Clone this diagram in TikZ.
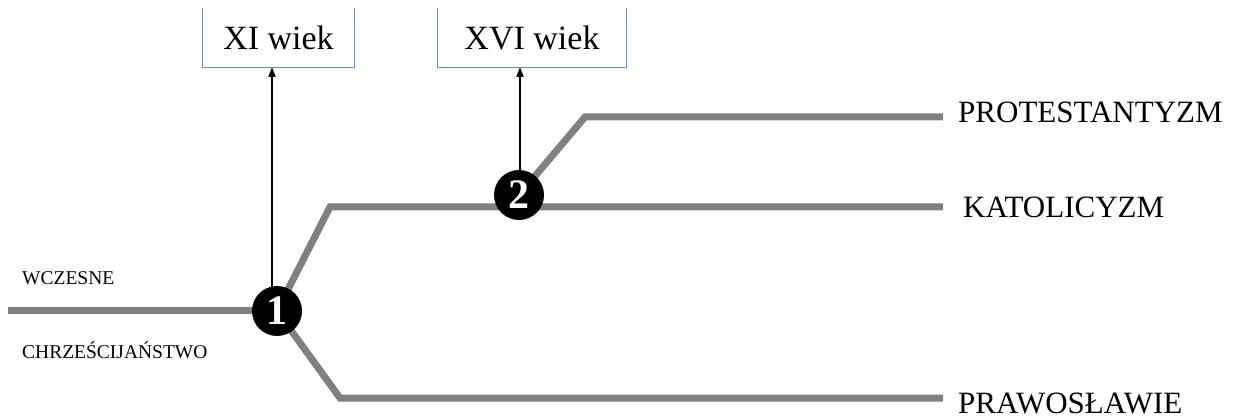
\documentclass[tikz,border=0pt]{standalone}
\usepackage{fontspec}
\setmainfont{Liberation Serif}
\usetikzlibrary{arrows.meta,calc}
\definecolor{branchgray}{RGB}{128,128,128}
\definecolor{boxblue}{RGB}{110,140,190}
\tikzset{
  branch/.style={draw=branchgray,line width=7pt,line join=miter},
  stepnum/.style={circle,fill=black,minimum size=50pt,inner sep=0pt,text=white,font=\fontsize{42}{42}\selectfont\bfseries},
  period/.style={inner sep=0pt,font=\fontsize{34}{34}\selectfont},
  boxline/.style={draw=boxblue,line width=1pt},
  arr/.style={line width=1.5pt,-{Triangle[length=10pt,width=7pt]}},
  biglabel/.style={anchor=base west,inner sep=0pt,font=\fontsize{31}{31}\selectfont},
  smalllabel/.style={anchor=base west,inner sep=0pt,font=\fontsize{19.5}{19.5}\selectfont}
}
\begin{document}
\begin{tikzpicture}[x=1pt,y=-1pt]
\useasboundingbox (0,0) rectangle (1236,419);
% coordinates of branch ends
\coordinate (start) at (8,311);
\coordinate (c1) at (277,311);
\coordinate (c2) at (519,195);
\coordinate (up1) at (330,207);
\coordinate (kend) at (943,207);
\coordinate (lo1) at (340,398);
\coordinate (pend) at (943,398);
\coordinate (pr1) at (585,117);
\coordinate (prend) at (943,117);
% branches
\draw[branch] (start) -- (c1);
\draw[branch] (c1) -- (up1) -- (kend);
\draw[branch] (c1) -- (lo1) -- (pend);
\draw[branch] (c2) -- (pr1) -- (prend);
% boxes
\node[period,minimum width=151pt,minimum height=59pt] (b1) at (278.5,37.5) {XI wiek};
\node[period,minimum width=188pt,minimum height=59pt] (b2) at (532,37.5) {XVI wiek};
\draw[boxline] (b1.north west) -- (b1.south west) -- (b1.south east) -- (b1.north east);
\draw[boxline] (b2.north west) -- (b2.south west) -- (b2.south east) -- (b2.north east);
% step circles
\node[stepnum] (n1) at (c1) {1};
\node[stepnum] (n2) at (c2) {2};
% arrows
\coordinate (a1) at (272,67);
\coordinate (a2) at (520,67);
\draw[arr] ($(n1.north -| a1)+(0,4)$) -- (a1);
\draw[arr] (n2.north -| a2) -- (a2);
% labels
\node[biglabel] (lprot) at (958,123) {PROTESTANTYZM};
\node[biglabel] (lkat) at (963,218) {KATOLICYZM};
\node[biglabel] (lpraw) at (958,413) {PRAWOSŁAWIE};
\node[smalllabel] (lw) at (22,285) {WCZESNE};
\node[smalllabel] (lc) at (22,358) {CHRZEŚCIJAŃSTWO};
\end{tikzpicture}
\end{document}
